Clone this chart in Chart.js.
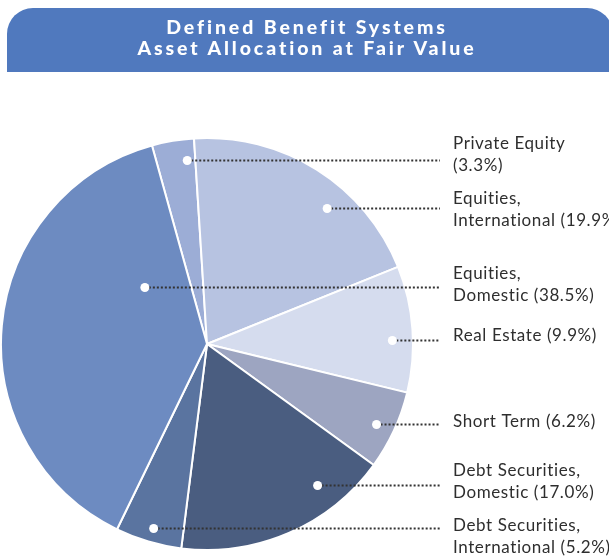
<!DOCTYPE html>
<html>
<head>
<meta charset="utf-8">
<script src="https://cdn.jsdelivr.net/npm/chart.js@4"></script>
<style>
  html, body { margin:0; padding:0; background:#fff; }
  #wrap { position:relative; width:609px; height:558px; overflow:hidden; }
  #banner {
    position:absolute; left:7px; top:8px; width:606px; height:64px;
    background:#5079be; border-radius:26px 26px 0 0;
    color:#fff; font-family:Lato, 'Open Sans', sans-serif; font-weight:900;
    font-size:19.5px; letter-spacing:2.9px; line-height:21px;
    text-align:center; box-sizing:border-box; padding-top:8px; padding-right:6px;
  }
  canvas { position:absolute; left:0; top:0; }
</style>
</head>
<body>
<div id="wrap">
  <canvas id="pie" width="609" height="558"></canvas>
  <div id="banner">Defined Benefit Systems<br>Asset Allocation at Fair Value</div>
</div>
<script>
// slices in drawing order, clockwise from just left of 12 o'clock
const categories = ['Private Equity', 'Equities, International', 'Real Estate', 'Short Term',
                    'Debt Securities, Domestic', 'Debt Securities, International', 'Equities, Domestic'];
const values = [3.3, 19.9, 9.9, 6.2, 17.0, 5.2, 38.5];
const colors = ['#9cadd6', '#b7c3e1', '#d5dcee', '#9da5c1', '#4a5d80', '#5a74a0', '#6d8bc1'];
const labelLines = [
  ['Private Equity', '(3.3%)'],
  ['Equities,', 'International (19.9%)'],
  ['Real Estate (9.9%)'],
  ['Short Term (6.2%)'],
  ['Debt Securities,', 'Domestic (17.0%)'],
  ['Debt Securities,', 'International (5.2%)'],
  ['Equities,', 'Domestic (38.5%)']
];

// where the leader dot sits inside each slice: fraction of the sweep, fraction of radius
const dotAt   = [[0.79, 0.90], [0.63, 0.88], [0.58, 0.90], [0.52, 0.91], [0.26, 0.87], [0.48, 0.93], [0.77, 0.41]];
// first text line centre relative to the leader line
const textOff = [-17, -10, -5, -3, -15, -3, -14];

const leaders = {
  id: 'leaders',
  afterDatasetsDraw(chart) {
    const ctx = chart.ctx;
    const arcs = chart.getDatasetMeta(0).data;
    ctx.save();
    arcs.forEach((a, i) => {
      const p = a.getProps(['x','y','startAngle','endAngle','outerRadius'], true);
      const ang = p.startAngle + (p.endAngle - p.startAngle) * dotAt[i][0];
      const r = p.outerRadius * dotAt[i][1];
      const dx = p.x + Math.cos(ang) * r;
      const dy = Math.round(p.y + Math.sin(ang) * r) + 0.5;

      ctx.strokeStyle = '#333';
      ctx.lineWidth = 2;
      ctx.setLineDash([2, 2]);
      ctx.beginPath();
      ctx.moveTo(dx + 4, dy);
      ctx.lineTo(440, dy);
      ctx.stroke();
      ctx.setLineDash([]);

      ctx.fillStyle = '#fff';
      ctx.beginPath();
      ctx.arc(dx, dy, 4.5, 0, Math.PI * 2);
      ctx.fill();

      ctx.fillStyle = '#2e2e2e';
      ctx.font = '17px Lato, "Open Sans", sans-serif';
      ctx.letterSpacing = '0.6px';
      ctx.textBaseline = 'middle';
      ctx.textAlign = 'left';
      labelLines[i].forEach((t, k) => ctx.fillText(t, 453, dy + textOff[i] + k * 22));
    });
    ctx.restore();
  }
};

new Chart(document.getElementById('pie'), {
  type: 'pie',
  data: {
    labels: categories,
    datasets: [{ data: values, backgroundColor: colors, borderColor: '#fff', borderWidth: 2 }]
  },
  options: {
    responsive: false,
    animation: false,
    rotation: -15.5,
    layout: { padding: { left: 0, right: 195, top: 136, bottom: 6 } },
    plugins: { legend: { display: false }, tooltip: { enabled: false } }
  },
  plugins: [leaders]
});
</script>
</body>
</html>
